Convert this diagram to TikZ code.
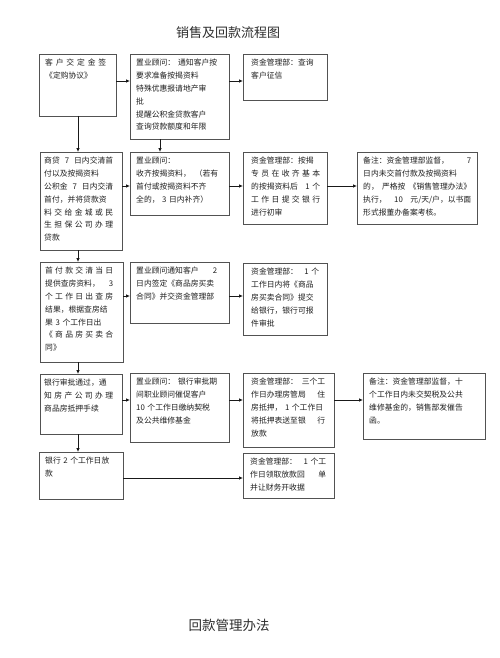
\documentclass[tikz,border=0pt]{standalone}
\usepackage{fontspec}
\newfontfamily\cjk{Noto Sans CJK SC}
\usetikzlibrary{arrows.meta}
\ExplSyntaxOn
\cs_new_protected:Npn \spr #1
  { \leavevmode \hbox_to_wd:nn { \hsize } { \tl_map_inline:nn {#1} { ##1 \hfil } \unskip } }
\ExplSyntaxOff
\newcommand\fl[1]{\leavevmode\hbox to\hsize{#1}}
\newcommand\nf{\cjk\fontsize{7.8}{12.8}\selectfont}
\tikzset{
  bx/.style={draw=black!68, line width=0.9pt, anchor=north west, inner sep=0pt, outer sep=0pt},
  tx/.style={anchor=north west, inner sep=0pt, align=left, text=black!88, font=\nf},
  arr/.style={draw=black!90, line width=0.8pt, -{Latex[length=4pt,width=3.6pt]}},
  ttl/.style={text=black!82, inner sep=0pt}
}
\begin{document}
\begin{tikzpicture}[x=1pt,y=1pt]
\fill[white] (0,0) rectangle (500,-658);
\path[use as bounding box] (0,0) rectangle (500,-658);

\node[ttl, font=\cjk\fontsize{13}{13}\selectfont] (title) at (228,-33) {销售及回款流程图};
\node[ttl, font=\cjk\fontsize{13.5}{13.5}\selectfont] (foot) at (229,-625) {回款管理办法};

% row 1
\node[bx, minimum width=77pt, minimum height=62pt] (b1) at (39,-54) {};
\node[tx, text width=61pt] (t1) at ([shift={(6pt,-5pt)}]b1.north west) {\spr{客户交定金签}\\《定购协议》};
\node[bx, minimum width=99pt, minimum height=85pt] (b2) at (130,-54) {};
\node[tx, text width=81pt] (t2) at ([shift={(6pt,-5pt)}]b2.north west) {\fl{置业顾问：\hfill 通知客户按}\\要求准备按揭资料\\特殊优惠报请地产审\\批\\提醒公积金贷款客户\\查询贷款额度和年限};
\node[bx, minimum width=84pt, minimum height=46pt] (b3) at (243,-54) {};
\node[tx, text width=62pt] (t3) at ([shift={(8pt,-5pt)}]b3.north west) {资金管理部：查询\\客户征信};

% row 2
\node[bx, minimum width=82pt, minimum height=98pt] (b4) at (40,-152) {};
\node[tx, text width=69pt] (t4) at ([shift={(4pt,-5pt)}]b4.north west) {\fl{商贷\hfill 7\hfill 日内交清首}\\付以及按揭资料\\\fl{公积金\hfill 7\hfill 日内交清}\\首付，并将贷款资\\\spr{料交给金城或民}\\\spr{生担保公司办理}\\贷款};
\node[bx, minimum width=99pt, minimum height=63pt] (b5) at (130,-152) {};
\node[tx, text width=82pt] (t5) at ([shift={(6pt,-5pt)}]b5.north west) {置业顾问：\\\fl{收齐按揭资料，\hfill（若有}\\首付或按揭资料不齐\\全的， 3 日内补齐）};
\node[bx, minimum width=84pt, minimum height=72pt] (b6) at (243,-152) {};
\node[tx, text width=69pt] (t6) at ([shift={(8pt,-5pt)}]b6.north west) {资金管理部：按揭\\\spr{专员在收齐基本}\\\fl{的按揭资料后\hfill 1 个}\\\spr{工作日提交银行}\\进行初审};
\node[bx, minimum width=120pt, minimum height=72pt] (b7) at (357,-152) {};
\node[tx, text width=108pt] (t7) at ([shift={(6pt,-5pt)}]b7.north west) {\fl{备注：资金管理部监督，\hfill 7}\\日内未交首付款及按揭资料\\\fl{的，\hfill 严格按\hfill《销售管理办法》}\\\fl{执行，\hfill 10\hfill 元/天/户，以书面}\\形式报董办备案考核。};

% row 3
\node[bx, minimum width=83pt, minimum height=100pt] (b8) at (40,-262) {};
\node[tx, text width=68pt] (t8) at ([shift={(5pt,-5pt)}]b8.north west) {\spr{首付款交清当日}\\\fl{提供查房资料，\hfill 3}\\\spr{个工作日出查房}\\结果，根据查房结\\果 3 个工作日出\\\spr{《商品房买卖合}\\同》};
\node[bx, minimum width=99pt, minimum height=61pt] (b9) at (130,-262) {};
\node[tx, text width=81pt] (t9) at ([shift={(6pt,-5pt)}]b9.north west) {\fl{置业顾问通知客户\hfill 2}\\日内签定《商品房买卖\\合同》并交资金管理部};
\node[bx, minimum width=84pt, minimum height=72pt] (b10) at (243,-263) {};
\node[tx, text width=68pt] (t10) at ([shift={(8pt,-5pt)}]b10.north west) {\fl{资金管理部：\hfill 1 个}\\工作日内将《商品\\房买卖合同》提交\\给银行，银行可报\\件审批};

% row 4
\node[bx, minimum width=82pt, minimum height=60pt] (b11) at (40,-374) {};
\node[tx, text width=69pt] (t11) at ([shift={(4pt,-5pt)}]b11.north west) {银行审批通过，通\\\spr{知房产公司办理}\\商品房抵押手续};
\node[bx, minimum width=99pt, minimum height=69pt] (b12) at (130,-373) {};
\node[tx, text width=81pt] (t12) at ([shift={(6pt,-5pt)}]b12.north west) {\fl{置业顾问：\hfill 银行审批期}\\间职业顾问催促客户\\10 个工作日缴纳契税\\及公共维修基金};
\node[bx, minimum width=91pt, minimum height=74pt] (b13) at (243,-373) {};
\node[tx, text width=74pt] (t13) at ([shift={(8pt,-5pt)}]b13.north west) {\fl{资金管理部：\hfill 三个工}\\\fl{作日办理房管局\hfill 住}\\房抵押， 1 个工作日\\\fl{将抵押表送至银\hfill 行}\\放款};
\node[bx, minimum width=122pt, minimum height=66pt] (b14) at (363,-373) {};
\node[tx, text width=97pt] (t14) at ([shift={(6pt,-5pt)}]b14.north west) {备注：资金管理部监督，十\\个工作日内未交契税及公共\\维修基金的，销售部发催告\\函。};

% row 5
\node[bx, minimum width=84pt, minimum height=47pt] (b15) at (39,-452) {};
\node[tx, text width=67pt] (t15) at ([shift={(6pt,-5pt)}]b15.north west) {银行 2 个工作日放\\款};
\node[bx, minimum width=91pt, minimum height=45pt] (b16) at (243,-453) {};
\node[tx, text width=76pt] (t16) at ([shift={(7pt,-5pt)}]b16.north west) {\fl{资金管理部：\hfill 1 个工}\\\fl{作日领取放款回\hfill 单}\\并让财务开收据};

% connector guides
\coordinate (r1) at (0,-81);
\coordinate (r2) at (0,-186);
\coordinate (r3) at (0,-296);
\coordinate (r4) at (0,-400);
\coordinate (r5) at (0,-478);
\coordinate (c1) at (78,0);
\coordinate (c2) at (160,0);

\draw[arr] (b1.east |- r1) -- (b2.west |- r1);
\draw[arr] (b2.east |- r1) -- (b3.west |- r1);
\draw[arr] (b4.east |- r2) -- (b5.west |- r2);
\draw[arr] (b5.east |- r2) -- (b6.west |- r2);
\draw[arr] (b6.east |- r2) -- (b7.west |- r2);
\draw[arr] (b8.east |- r3) -- (b9.west |- r3);
\draw[arr] (b9.east |- r3) -- (b10.west |- r3);
\draw[arr] (b11.east |- r4) -- (b12.west |- r4);
\draw[arr] (b12.east |- r4) -- (b13.west |- r4);
\draw[arr] (b13.east |- r4) -- (b14.west |- r4);
\draw[arr] (b15.east |- r5) -- (b16.west |- r5);

\draw[arr] (b1.south -| c1) -- (b4.north -| c1);
\draw[arr] (b2.south -| c2) -- (b5.north -| c2);
\draw[arr] (b4.south -| c1) -- (b8.north -| c1);
\draw[arr] (b8.south -| c1) -- (b11.north -| c1);
\draw[arr] (b11.south -| c1) -- (b15.north -| c1);
\end{tikzpicture}
\end{document}
